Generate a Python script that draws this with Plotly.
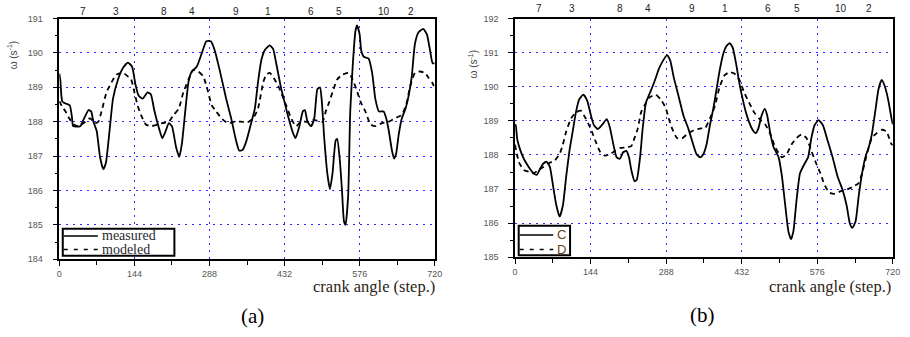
import plotly.graph_objects as go

# ---------------- data ----------------
# panel (a)
A_MEAS_X = [0, 2, 4, 6, 12, 20, 24.5, 26.4, 40, 46.5, 56, 61, 65.4, 71.7, 78, 84.3, 89.3, 96.9, 103,
            112.6, 122, 131.5, 139.6, 146, 152, 160, 169, 175.5, 182, 191, 197.5, 204, 210, 216, 224,
            230, 235, 241.5, 248, 254, 263.5, 273, 282, 290.6, 298, 307.6, 320, 329.6, 339, 345, 351.6,
            359, 368.6, 375, 381, 387.6, 394, 403.5, 410, 416, 425.7, 432, 438, 448, 453, 460.5, 467,
            471, 476, 483, 489, 495, 500, 503.6, 508, 514, 519, 524, 530, 533, 538, 542, 546, 549, 554,
            558, 563, 568, 571, 576, 579, 584, 593, 600, 606, 613, 622, 627, 632, 638, 642, 646, 651,
            657, 664, 670, 676, 682, 689, 698, 705, 711, 716, 720]
A_MEAS_Y = [189.4, 189.2, 188.75, 188.58, 188.53, 188.48, 188.1, 187.87, 187.87, 188.06, 188.34, 188.3,
            188.0, 187.73, 186.98, 186.62, 186.8, 187.82, 188.67, 189.23, 189.56, 189.72, 189.6, 189.09,
            188.76, 188.67, 188.85, 188.8, 188.34, 187.82, 187.52, 187.73, 187.96, 187.87, 187.26,
            186.98, 187.35, 188.3, 189.18, 189.46, 189.6, 189.98, 190.34, 190.34, 190.08, 189.5,
            188.67, 188.1, 187.45, 187.16, 187.18, 187.45, 188.0, 188.38, 189.14, 189.8, 190.08,
            190.22, 190.12, 189.7, 188.95, 188.57, 188.2, 187.68, 187.52, 187.87, 188.3, 188.34, 188.0,
            187.87, 188.1, 188.95, 189.0, 188.57, 187.54, 186.5, 186.04, 186.5, 187.45, 187.5, 186.88,
            186.04, 185.1, 185.0, 185.85, 188.3, 189.7, 190.64, 190.8, 190.54, 190.08, 189.89, 189.84,
            189.42, 188.67, 188.3, 188.3, 188.1, 187.73, 187.16, 186.93, 187.07, 187.63, 188.1, 188.38,
            188.76, 189.32, 190.26, 190.6, 190.7, 190.54, 190.08, 189.7, 189.7]

A_MOD_X = [0, 5.7, 12, 18, 27.7, 37, 46.5, 59, 68.6, 75, 81, 90.6, 100, 109.4, 122, 131.5, 137.7, 144,
           150, 156.6, 166, 175.5, 185, 197.5, 210, 219.5, 229, 238, 248, 257, 266.7, 276, 285.6, 292,
           301, 310.7, 323, 336, 348, 361, 371.8, 381, 391, 397, 403.5, 413, 422.5, 429, 435, 444.7,
           454, 463.7, 476, 486, 505, 511, 517.6, 524, 533, 543, 555.6, 565, 571.5, 578, 587, 597, 606,
           619, 632, 644, 657, 666.6, 673, 682, 692, 701.5, 708, 715, 720]
A_MOD_Y = [188.6, 188.43, 188.3, 188.12, 187.92, 187.87, 187.96, 188.1, 187.96, 188.0, 188.3, 188.86,
           189.14, 189.37, 189.42, 189.32, 189.23, 188.86, 188.48, 188.2, 187.92, 187.87, 187.9,
           187.96, 188.0, 188.2, 188.38, 188.86, 189.23, 189.51, 189.46, 189.32, 188.86, 188.48,
           188.3, 188.1, 187.96, 188.0, 188.0, 187.98, 188.1, 188.38, 189.14, 189.37, 189.42, 189.23,
           188.95, 188.71, 188.48, 188.1, 187.87, 188.0, 188.0, 188.06, 188.0, 188.3, 188.57, 188.86,
           189.23, 189.37, 189.42, 189.14, 188.86, 188.57, 188.3, 187.92, 187.87, 187.96, 188.0,
           188.1, 188.2, 188.57, 189.04, 189.42, 189.46, 189.42, 189.28, 189.14, 189.0]

# panel (b)
B_C_X = [0, 1.2, 4.3, 10.5, 16.7, 26, 35.3, 41.6, 47.8, 54, 60.2, 66.4, 72.6, 78.8, 85, 91.2, 97.5,
         103.7, 109.9, 116, 122.3, 130.3, 137.8, 144, 150.2, 157.7, 165.7, 175, 181.2, 187.4, 193.7,
         199.9, 206, 212.3, 217.2, 221.6, 227.8, 232, 238.3, 243.3, 249.5, 255.7, 261.9, 268, 274.3,
         281.8, 289.9, 296, 302.3, 311.6, 320.9, 330.2, 339.5, 345.7, 352.8, 359, 365, 371.5, 377.8,
         384, 390, 396.5, 402.7, 409, 415, 421.4, 427.6, 434, 440, 446, 452.6, 458.8, 463.8, 470,
         476, 480.6, 486.9, 493, 502.4, 508.7, 515, 521, 526, 530.5, 536.7, 543, 552, 558.5, 564.8,
         571, 578.5, 586.6, 596, 605.3, 614.7, 624, 632, 638, 642.7, 649, 655, 661.4, 667.6, 674,
         680, 686.3, 692.6, 698.8, 705, 711, 717.6, 720]
B_C_Y = [188.88, 188.88, 188.45, 188.12, 187.89, 187.65, 187.46, 187.42, 187.6, 187.75, 187.8, 187.65,
         187.08, 186.52, 186.19, 186.52, 187.37, 188.12, 188.69, 189.25, 189.63, 189.77, 189.58,
         189.2, 188.88, 188.76, 188.88, 189.05, 188.78, 188.31, 187.93, 187.89, 188.08, 188.12,
         187.93, 187.56, 187.23, 187.27, 187.93, 188.78, 189.54, 189.77, 190.0, 190.25, 190.53,
         190.76, 190.93, 190.76, 190.29, 189.73, 189.16, 188.78, 188.31, 188.03, 187.93, 188.03,
         188.31, 188.88, 189.35, 189.92, 190.48, 190.95, 191.19, 191.28, 191.14, 190.67, 190.1,
         189.63, 189.25, 188.97, 188.74, 188.64, 188.78, 189.16, 189.35, 189.16, 188.6, 188.22,
         187.93, 187.37, 186.52, 185.76, 185.53, 185.76, 186.7, 187.46, 187.75, 187.93, 188.5,
         188.88, 189.02, 188.88, 188.41, 187.93, 187.37, 186.99, 186.52, 186.0, 185.86, 186.05,
         186.8, 187.46, 187.93, 188.22, 188.6, 189.25, 189.92, 190.2, 190.0, 189.63, 189.07, 188.9]

B_D_X = [0, 7.4, 16.7, 26, 35.3, 44.7, 54, 63.3, 75.7, 85, 91.2, 97.5, 106.8, 116, 125.4, 134.7, 144,
         153.3, 162.6, 171.9, 181.2, 190.6, 199.9, 212.3, 221.6, 227.8, 234, 240.2, 246.4, 255.7, 268,
         277.4, 286.7, 293, 299.2, 308.5, 317.8, 330.2, 342.6, 355, 362, 371.5, 381, 390, 399.6, 409,
         418, 427.6, 437, 446, 455.7, 465, 477.5, 487, 496, 508.7, 518, 527, 536.7, 546, 555.4, 564.8,
         574, 582, 589.7, 599, 608.4, 621, 633, 645.8, 655, 661.4, 667.6, 674, 680, 689.5, 698.8, 708,
         717.6, 720]
B_D_Y = [188.3, 187.79, 187.56, 187.51, 187.46, 187.56, 187.65, 187.75, 187.84, 188.03, 188.31, 188.69,
         189.07, 189.25, 189.3, 189.07, 188.78, 188.41, 188.08, 187.98, 188.03, 188.12, 188.2, 188.22,
         188.26, 188.5, 188.78, 189.25, 189.44, 189.68, 189.77, 189.63, 189.4, 189.07, 188.78, 188.5,
         188.48, 188.64, 188.74, 188.78, 188.78, 189.07, 189.44, 190.0, 190.34, 190.43, 190.39, 190.2,
         189.82, 189.54, 189.25, 189.07, 188.88, 188.6, 188.22, 187.93, 188.03, 188.31, 188.5, 188.6,
         188.5, 188.12, 187.75, 187.46, 187.13, 186.9, 186.86, 186.94, 186.99, 187.08, 187.18,
         187.46, 187.84, 188.22, 188.5, 188.64, 188.74, 188.69, 188.31, 188.3]

X_TICKS = [0, 144, 288, 432, 576, 720]
A_Y_TICKS = [184, 185, 186, 187, 188, 189, 190, 191]
B_Y_TICKS = [185, 186, 187, 188, 189, 190, 191, 192]
TOP_POS = [45, 108, 200, 254, 338, 401, 483, 537, 622, 674]
TOP_LABELS = ["7", "3", "8", "4", "9", "1", "6", "5", "10", "2"]
A_NAMES = ["measured", "modeled"]
B_NAMES = ["C", "D"]

# ---------------- figure ----------------
W, H = 910, 337
fig = go.Figure()

SOLID = dict(color="black", width=1.8)
DASH = dict(color="black", width=1.8, dash="5px,4px")

for xs, ys, ln, nm, xa, ya in [
    (A_MEAS_X, A_MEAS_Y, SOLID, A_NAMES[0], "x", "y"),
    (A_MOD_X, A_MOD_Y, DASH, A_NAMES[1], "x", "y"),
    (B_C_X, B_C_Y, SOLID, B_NAMES[0], "x2", "y2"),
    (B_D_X, B_D_Y, DASH, B_NAMES[1], "x2", "y2"),
]:
    fig.add_trace(go.Scatter(x=xs, y=ys, mode="lines", line=ln, name=nm, xaxis=xa, yaxis=ya,
                             line_shape="spline", line_smoothing=0.5, showlegend=False))

GRID = "rgba(30,30,255,0.95)"
TICKFONT = dict(family="Liberation Sans", size=9, color="#555")


def xaxis(domain, anchor):
    return dict(domain=domain, anchor=anchor, range=[0, 720], tickvals=X_TICKS,
                showline=True, linecolor="black", linewidth=1.5, mirror=True,
                ticks="outside", ticklen=5, tickcolor="black", tickwidth=1,
                tickfont=TICKFONT, showgrid=True, gridcolor=GRID, gridwidth=1,
                griddash="2px,5px", zeroline=False,
                minor=dict(dtick=72, ticks="outside", ticklen=4, tickcolor="black",
                           showgrid=False))


def yaxis(domain, anchor, rng, ticks):
    return dict(domain=domain, anchor=anchor, range=rng, tickvals=ticks,
                showline=True, linecolor="black", linewidth=1.5, mirror=True,
                ticks="outside", ticklen=5, tickcolor="black", tickwidth=1,
                tickfont=TICKFONT, ticklabelstandoff=8, showgrid=True, gridcolor=GRID,
                gridwidth=1, griddash="2px,5px", zeroline=False,
                minor=dict(dtick=0.5, ticks="outside", ticklen=3, tickcolor="black",
                           showgrid=False))


A_XD = [57 / W, 437 / W]
A_YD = [(H - 262) / H, (H - 14) / H]
B_XD = [518.3 / W, 900.7 / W]
B_YD = [(H - 260) / H, (H - 14) / H]

fig.update_layout(
    width=W, height=H, margin=dict(l=0, r=0, t=0, b=0),
    paper_bgcolor="white", plot_bgcolor="white",
    xaxis=xaxis(A_XD, "y"),
    yaxis=yaxis(A_YD, "x", [184, 191], A_Y_TICKS),
    xaxis2=xaxis(B_XD, "y2"),
    yaxis2=yaxis(B_YD, "x2", [185, 192], B_Y_TICKS),
    showlegend=False,
)

# top labels (cylinder numbers) on each panel
for xr, top, shift in (("x", A_YD[1], 0), ("x2", B_YD[1], 3)):
    for pos, lab in zip(TOP_POS, TOP_LABELS):
        fig.add_annotation(text=lab, xref=xr, yref="paper", x=pos, y=top, yanchor="bottom",
                           xanchor="center", showarrow=False, yshift=shift,
                           font=dict(family="Liberation Sans", size=10, color="#222"))


def py(v):
    return (H - v) / H


def px(v):
    return v / W


# legends (boxed, lower-left of each panel)
def legend_box(x0, x1, y0, y1, l0, l1, rows, names, font):
    fig.add_shape(type="rect", xref="paper", yref="paper", x0=px(x0), x1=px(x1),
                  y0=py(y1), y1=py(y0), line=dict(color="black", width=2),
                  fillcolor="white", layer="above")
    for (ry, dash), nm in zip(rows, names):
        fig.add_shape(type="line", xref="paper", yref="paper", x0=px(l0), x1=px(l1),
                      y0=py(ry), y1=py(ry), layer="above",
                      line=dict(color="black", width=1.6, dash=dash))
        fig.add_annotation(text=nm, xref="paper", yref="paper", x=px(l1 + 3), y=py(ry),
                           xanchor="left", yanchor="middle", showarrow=False, font=font,
                           borderpad=0)


legend_box(60.5, 173.5, 230.5, 258.5, 61.5, 96, [(238, "solid"), (252, "4px,6px")],
           A_NAMES, dict(family="Liberation Serif", size=14, color="#2a2a30"))
legend_box(522, 574, 227.5, 258, 523, 557, [(237, "solid"), (252, "4px,6px")],
           B_NAMES, dict(family="Liberation Sans", size=13, color="#6a4418"))

# axis titles / captions
YT = "ω (s<sup>-1</sup>)"
fig.add_annotation(text=YT, xref="paper", yref="paper", x=px(10), y=py(51),
                   textangle=-90, showarrow=False, xanchor="center", yanchor="middle",
                   font=dict(family="Liberation Sans", size=10, color="#444"))
fig.add_annotation(text=YT, xref="paper", yref="paper", x=px(476), y=py(61),
                   textangle=-90, showarrow=False, xanchor="center", yanchor="middle",
                   font=dict(family="Liberation Sans", size=10, color="#444"))
for xr in (438, 900):
    fig.add_annotation(text="crank angle (step.)", xref="paper", yref="paper", x=px(xr),
                       y=py(290), showarrow=False, xanchor="right", yanchor="middle",
                       borderpad=0,
                       font=dict(family="Liberation Serif", size=16.5, color="#2a2418"))
fig.add_annotation(text="(a)", xref="paper", yref="paper", x=px(253), y=py(320),
                   showarrow=False, xanchor="center", yanchor="middle",
                   font=dict(family="Liberation Serif", size=21, color="black"))
fig.add_annotation(text="(b)", xref="paper", yref="paper", x=px(708), y=py(319),
                   showarrow=False, xanchor="center", yanchor="middle",
                   font=dict(family="Liberation Serif", size=21, color="black"))

fig.write_html("out.html")
